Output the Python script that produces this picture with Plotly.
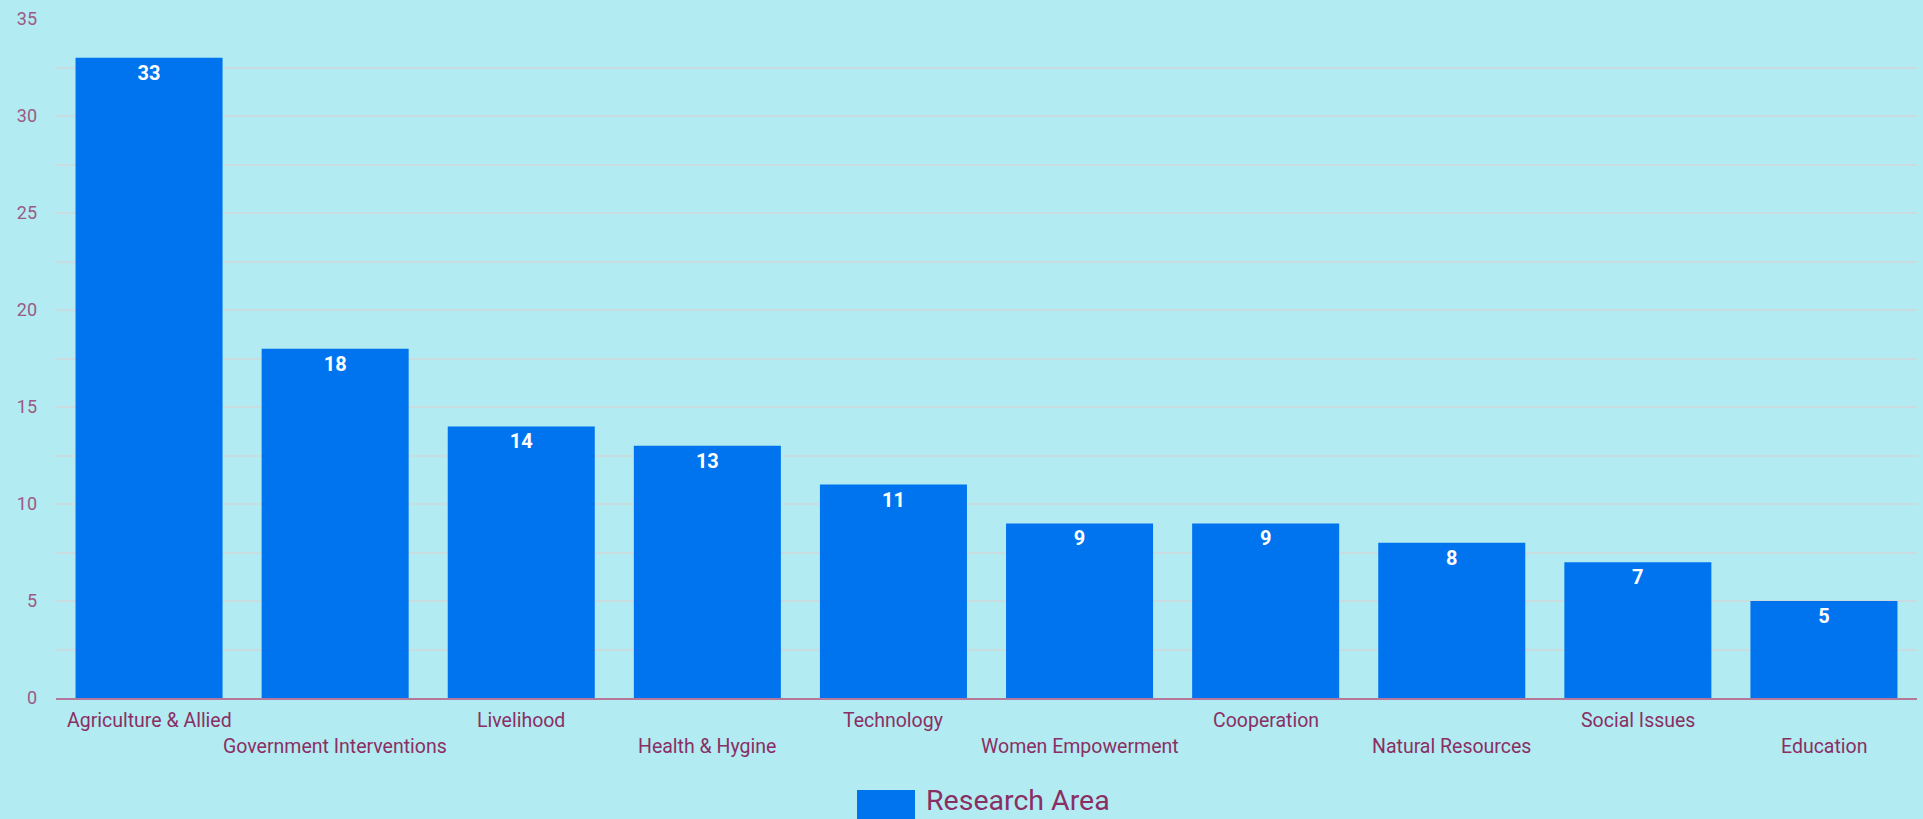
import plotly.graph_objects as go

categories = ["Agriculture & Allied", "Government Interventions", "Livelihood", "Health & Hygine",
              "Technology", "Women Empowerment", "Cooperation", "Natural Resources",
              "Social Issues", "Education"]
values = [33, 18, 14, 13, 11, 9, 9, 8, 7, 5]
series_name = "Research Area"
y_ticks = [0, 5, 10, 15, 20, 25, 30, 35]

BG = "#b2ebf2"
BAR = "#0073ee"
LABEL = "#8a2f63"
YLABEL = "#9c5a84"
GRID = "#c9dcdf"
FONT = "Roboto"

fig = go.Figure()
fig.add_trace(go.Bar(
    x=categories, y=values, name=series_name,
    marker=dict(color=BAR, line=dict(width=0)),
    text=[str(v) for v in values], textposition="inside", insidetextanchor="end",
    textfont=dict(family=FONT, size=20, color="white", weight="bold"),
    textangle=0, showlegend=False, cliponaxis=False,
))

for i, cat in enumerate(categories):
    fig.add_annotation(
        x=cat, xref="x", y=0, yref="paper", yanchor="middle",
        yshift=-22 if i % 2 == 0 else -48, showarrow=False, text=cat,
        font=dict(family=FONT, size=19.5, color=LABEL),
    )

# legend
fig.add_shape(type="rect", xref="paper", yref="paper",
              x0=(857 - 56) / 1861, x1=(915 - 56) / 1861,
              y0=-(790 - 698) / 679, y1=-(822 - 698) / 679,
              fillcolor=BAR, line=dict(width=0))
fig.add_annotation(x=(925 - 56) / 1861, xref="paper", xanchor="left",
                   y=-(801 - 698) / 679, yref="paper", yanchor="middle",
                   showarrow=False, text=series_name, borderpad=0,
                   font=dict(family=FONT, size=28.5, color=LABEL))

fig.update_layout(
    width=1923, height=819,
    margin=dict(l=56, r=6, t=19, b=121),
    paper_bgcolor=BG, plot_bgcolor=BG,
    bargap=0.21,
    font=dict(family=FONT),
    xaxis=dict(showticklabels=False, showgrid=False, showline=True,
               linecolor="#b5789a", linewidth=2, range=[-0.5, 9.5], zeroline=False),
    yaxis=dict(range=[0, 35], tickvals=y_ticks, showgrid=True, gridcolor=GRID, gridwidth=2,
               zeroline=False, showline=False, ticks="",
               tickfont=dict(family=FONT, size=18, color=YLABEL),
               ticklabelstandoff=18,
               minor=dict(dtick=2.5, showgrid=True, gridcolor=GRID, gridwidth=2)),
)

fig.write_html("out.html", config={"displayModeBar": False},
               post_script="document.body.style.margin='0';")
